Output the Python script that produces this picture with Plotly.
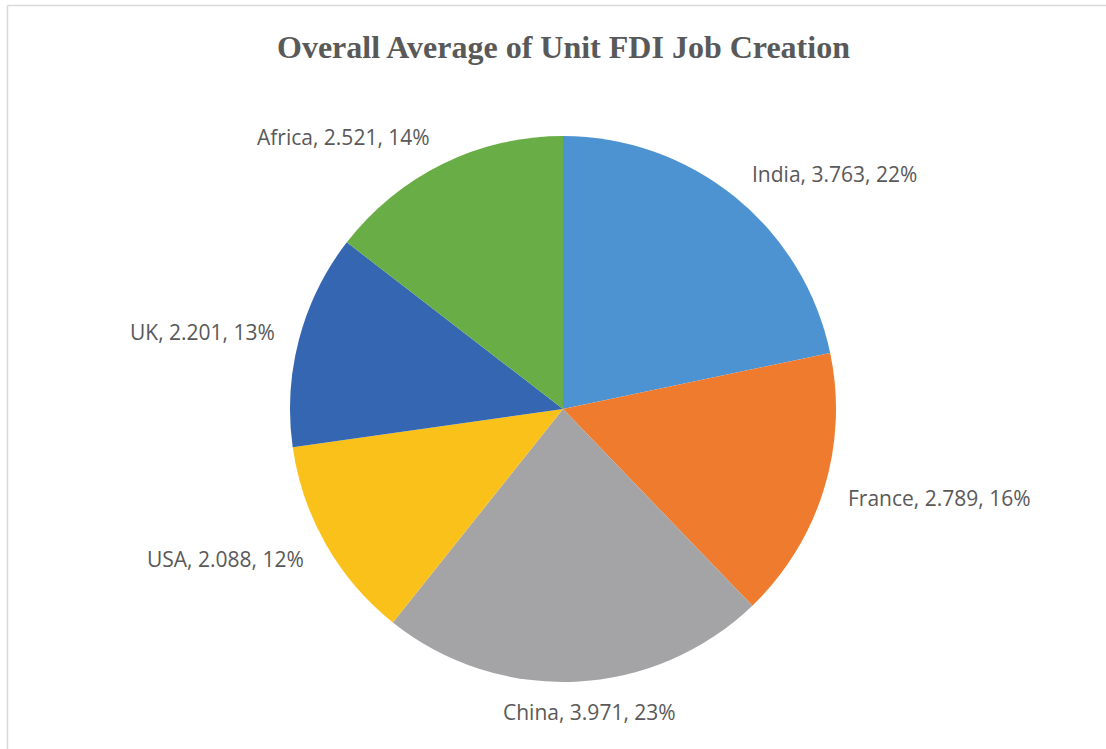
import math
import plotly.graph_objects as go

countries = ["India", "France", "China", "USA", "UK", "Africa"]
values = [3.763, 2.789, 3.971, 2.088, 2.201, 2.521]
percents = ["22%", "16%", "23%", "12%", "13%", "14%"]
colors = ["#4d93d2", "#ef7b2e", "#a4a4a6", "#fbc11b", "#3566b2", "#68ad45"]

W, H = 1106, 749
cx, cy, R = 563, 409, 273

fig = go.Figure()
fig.add_trace(go.Pie(
    labels=countries, values=values, sort=False, direction="clockwise",
    rotation=0, textinfo="none", hoverinfo="label+value+percent",
    marker=dict(colors=colors, line=dict(width=0)),
    domain=dict(x=[(cx - R) / W, (cx + R) / W], y=[1 - (cy + R) / H, 1 - (cy - R) / H]),
    showlegend=False,
))

total = sum(values)
cum = 0.0
annotations = []
for name, v, p in zip(countries, values, percents):
    mid = (cum + v / 2) / total
    cum += v
    ang = 2 * math.pi * mid
    s, c = math.sin(ang), math.cos(ang)
    x = cx + R * 1.085 * s
    y = cy - R * 1.11 * c
    if abs(s) < 0.25:
        xa = "center"
        x += 13
    elif s > 0:
        xa = "left"
    else:
        xa = "right"
    annotations.append(dict(
        x=x / W, y=1 - y / H, xref="paper", yref="paper",
        text=f"{name}, {v:.3f}, {p}", showarrow=False,
        xanchor=xa, yanchor="middle",
        font=dict(family="Open Sans, sans-serif", size=21, color="#595959"),
    ))

annotations.append(dict(
    x=563 / W, y=1 - 47 / H, xref="paper", yref="paper",
    text="<b>Overall Average of Unit FDI Job Creation</b>", showarrow=False,
    xanchor="center", yanchor="middle",
    font=dict(family="Liberation Serif, Times New Roman, serif", size=32, color="#595959"),
))

fig.update_layout(
    width=W, height=H,
    margin=dict(l=0, r=0, t=0, b=0),
    paper_bgcolor="white", plot_bgcolor="white",
    annotations=annotations,
    shapes=[
        dict(type="line", xref="paper", yref="paper", x0=7.5 / W, x1=1, y0=1 - 5.5 / H, y1=1 - 5.5 / H,
             line=dict(color="#d9d9d9", width=1.5)),
        dict(type="line", xref="paper", yref="paper", x0=7.5 / W, x1=7.5 / W, y0=0, y1=1 - 5.5 / H,
             line=dict(color="#d9d9d9", width=1.5)),
    ],
)

fig.write_html("out.html")
